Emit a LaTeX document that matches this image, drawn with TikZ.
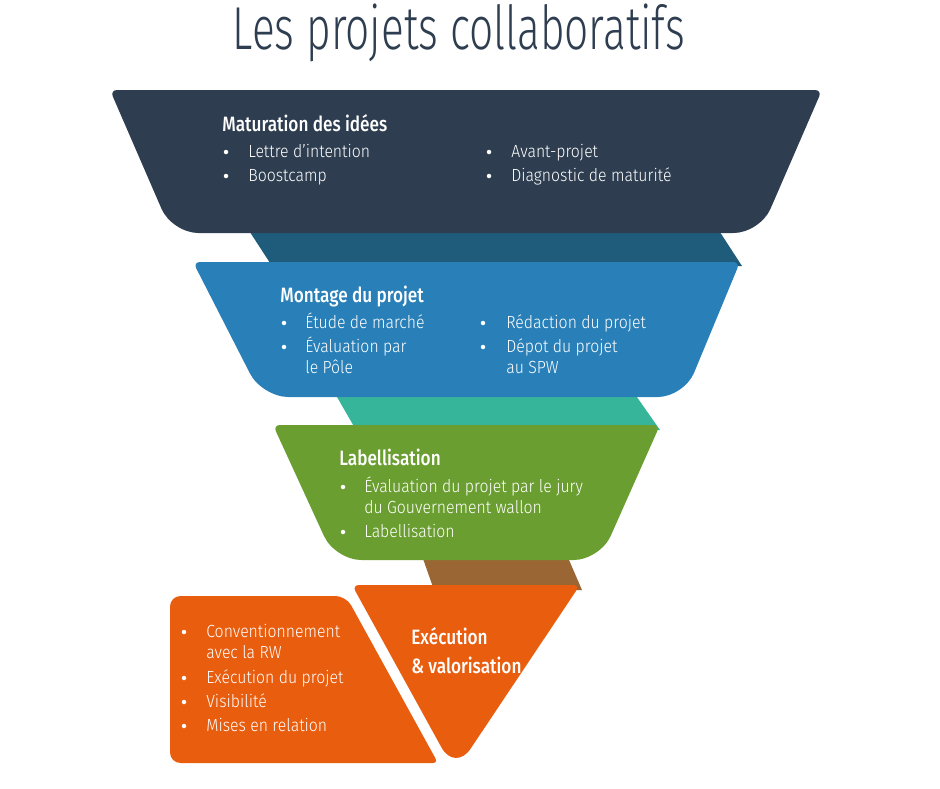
\documentclass[tikz,border=0pt]{standalone}
\usepackage{fontspec}
\setmainfont{Fira Sans Light}[FakeStretch=0.9]
\newfontfamily\headfont{Fira Sans Medium}[FakeStretch=0.83]
\newfontfamily\titlefont{Fira Sans Light}[FakeStretch=0.7]

\definecolor{navy}{HTML}{2E3E50}
\definecolor{deepteal}{HTML}{1F5C7B}
\definecolor{steel}{HTML}{2980B9}
\definecolor{mint}{HTML}{36B59A}
\definecolor{leaf}{HTML}{6B9E31}
\definecolor{bark}{HTML}{9A6634}
\definecolor{carrot}{HTML}{E95D0F}

\tikzset{
  head/.style={anchor=base west, inner sep=0pt, text=white, font=\headfont\fontsize{11.8}{13}\selectfont},
  item/.style={anchor=base west, inner sep=0pt, text=white, font=\fontsize{10}{12}\selectfont},
  dot/.style={circle, fill=white, inner sep=0pt, minimum size=0.09cm}
}

\begin{document}
\begin{tikzpicture}[x=0.02cm, y=-0.02cm]
 \useasboundingbox (0,0) rectangle (940,788);
 % title
 \node (title) at (459,33) {\titlefont\color{navy}\fontsize{34.5}{38}\selectfont Les projets collaboratifs};

 % bands between the stages
 \fill[deepteal] (246,226) -- (716,226) -- (742,266) -- (272,266) -- cycle;
 \fill[mint] (333,390) -- (632,390) -- (660,430) -- (356,430) -- cycle;
 \fill[bark] (421,553) -- (566,553) -- (582,590) -- (434,590) -- cycle;

 % stage 1
 \fill[navy, rounded corners=4] (110,90) -- (822,90) [rounded corners=15] -- (760,233) -- (172,233) [rounded corners=4] -- cycle;
 \node[head] (h1) at (222,131) {Maturation des idées};
 \node[dot] (b11) at (226,152) {}; \node[item] (t11) at (248,157) {Lettre d’intention};
 \node[dot] (b12) at (226,176) {}; \node[item] (t12) at (248,181) {Boostcamp};
 \node[dot] (b13) at (489,152) {}; \node[item] (t13) at (511,157) {Avant-projet};
 \node[dot] (b14) at (489,176) {}; \node[item] (t14) at (511,181) {Diagnostic de maturité};

 % stage 2
 \fill[steel, rounded corners=4] (193,262) -- (740,262) [rounded corners=15] -- (684,397) -- (262,397) [rounded corners=4] -- cycle;
 \node[head] (h2) at (280,302) {Montage du projet};
 \node[dot] (b21) at (284,323) {}; \node[item] (t21) at (305,328) {Étude de marché};
 \node[dot] (b22) at (284,347) {}; \node[item] (t22) at (305,352) {Évaluation par};
 \node[item] (t23) at (305,373) {le Pôle};
 \node[dot] (b24) at (483,323) {}; \node[item] (t24) at (506,328) {Rédaction du projet};
 \node[dot] (b25) at (483,347) {}; \node[item] (t25) at (506,352) {Dépot du projet};
 \node[item] (t26) at (506,373) {au SPW};

 % stage 3
 \fill[leaf, rounded corners=4] (273,425) -- (660,425) [rounded corners=15] -- (600,560) -- (335,560) [rounded corners=4] -- cycle;
 \node[head] (h3) at (339,465) {Labellisation};
 \node[dot] (b31) at (343,487) {}; \node[item] (t31) at (364,492) {Évaluation du projet par le jury};
 \node[item] (t32) at (364,513) {du Gouvernement wallon};
 \node[dot] (b33) at (343,532) {}; \node[item] (t33) at (364,537) {Labellisation};

 % stage 4
 \fill[carrot, rounded corners=4] (352,585) -- (580,585) [rounded corners=16] -- (455,772) [rounded corners=4] -- cycle;
 \node[head] (h4) at (411,644) {Exécution};
 \node[head] (h5) at (411,673) {\& valorisation};
 \fill[carrot, rounded corners=6] (170,596) -- (346,596) [rounded corners=3] -- (438,763) [rounded corners=6] -- (170,763) -- cycle;
 \node[dot] (b41) at (184,632) {}; \node[item] (t41) at (206,637) {Conventionnement};
 \node[item] (t42) at (206,658) {avec la RW};
 \node[dot] (b43) at (184,678) {}; \node[item] (t43) at (206,683) {Exécution du projet};
 \node[dot] (b44) at (184,702) {}; \node[item] (t44) at (206,707) {Visibilité};
 \node[dot] (b45) at (184,726) {}; \node[item] (t45) at (206,731) {Mises en relation};
\end{tikzpicture}
\end{document}
